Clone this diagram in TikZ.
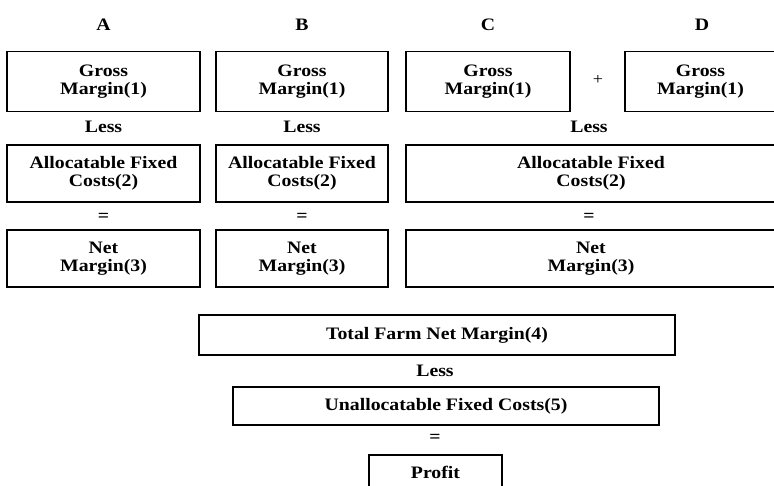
\documentclass[tikz,border=0pt]{standalone}
\usepackage{fontspec}
\setmainfont{Liberation Serif}[FakeStretch=1.13]
\usepackage{tikz}

\begin{document}
\begin{tikzpicture}[
    x=1pt, y=-1pt,
    % Define styles for consistent formatting
    box/.style={draw, line width=1.3pt, align=center, inner sep=0pt,
                font=\bfseries\fontsize{17.5}{18}\selectfont},
    steplabel/.style={font=\bfseries\fontsize{17.5}{18}\selectfont},
    collabel/.style={font=\bfseries\fontsize{17.5}{18}\selectfont},
    pluslabel/.style={font=\fontsize{16}{18}\selectfont}
]

\useasboundingbox (0,0) rectangle (774,486);

% Row positions
\newcommand{\rowgross}{81.5}
\newcommand{\rowalloc}{173.5}
\newcommand{\rownet}{258.5}
\newcommand{\rowheight}{60}

% Enterprises A and B
\foreach \name/\x/\w in {A/103.5/193, B/302/172} {
    \node [collabel] (lbl\name) at (\x,25) {\name};
    \node [box, minimum width=\w, minimum height=\rowheight] (gm\name) at (\x,\rowgross) {Gross\\Margin(1)};
    \node [steplabel] (less\name) at (\x,127) {Less};
    \node [box, minimum width=\w, minimum height=57] (afc\name) at (\x,\rowalloc) {Allocatable Fixed\\Costs(2)};
    \node [steplabel] (eq\name) at (\x,217) {=};
    \node [box, minimum width=\w, minimum height=57] (nm\name) at (\x,\rownet) {Net\\Margin(3)};
}

% Enterprises C and D (combined)
\node [collabel] (lblC) at (488,25) {C};
\node [collabel] (lblD) at (702,25) {D};
\node [box, minimum width=164, minimum height=\rowheight] (gmC) at (488,\rowgross) {Gross\\Margin(1)};
\node [pluslabel] (plusCD) at (598,80) {+};
\node [box, minimum width=151, minimum height=\rowheight] (gmD) at (700.5,\rowgross) {Gross\\Margin(1)};
\node [steplabel] (lessCD) at (589,127) {Less};
\node [box, minimum width=370, minimum height=57] (afcCD) at (591,\rowalloc) {Allocatable Fixed\\Costs(2)};
\node [steplabel] (eqCD) at (589,217) {=};
\node [box, minimum width=370, minimum height=57] (nmCD) at (591,\rownet) {Net\\Margin(3)};

% Whole farm
\node [box, minimum width=476, minimum height=40] (tfnm) at (437,335) {Total Farm Net Margin(4)};
\node [steplabel] (lessT) at (435,371) {Less};
\node [box, minimum width=426, minimum height=38] (ufc) at (446,406) {Unallocatable Fixed Costs(5)};
\node [steplabel] (eqT) at (435,438) {=};
\node [box, minimum width=133, minimum height=35] (profit) at (435.5,472.5) {Profit};

\end{tikzpicture}
\end{document}
